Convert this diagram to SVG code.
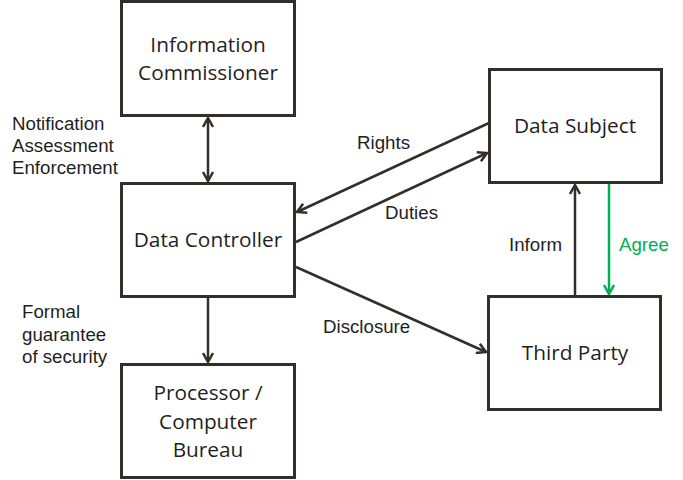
<svg xmlns="http://www.w3.org/2000/svg" width="683" height="480" viewBox="0 0 683 480">
<defs>
<style>
.box{fill:#fff;stroke:#332f28;stroke-width:3}
.nt{font-family:"Open Sans","Noto Sans",sans-serif;font-size:20.8px;fill:#1f1f1f;text-anchor:middle}
.lt{font-family:"Liberation Sans",Arial,sans-serif;font-size:18.7px;fill:#1f1f1f}
.con{stroke:#332f28;stroke-width:2.5;fill:none}
.green{stroke:#00b050}
</style>
<marker id="ah" viewBox="0 0 12 12" refX="10" refY="6" markerWidth="12" markerHeight="12" markerUnits="userSpaceOnUse" orient="auto-start-reverse">
<polyline points="1,1 10,6 1,11" fill="none" stroke="#332f28" stroke-width="2.5"/>
</marker>
<marker id="ahg" viewBox="0 0 12 12" refX="10" refY="6" markerWidth="12" markerHeight="12" markerUnits="userSpaceOnUse" orient="auto">
<polyline points="1,1 10,6 1,11" fill="none" stroke="#00b050" stroke-width="2.5"/>
</marker>
</defs>
<rect width="683" height="480" fill="#fff"/>
<g id="connectors">
<line class="con" x1="208" y1="118" x2="208" y2="181" marker-start="url(#ah)" marker-end="url(#ah)"/>
<line class="con" x1="489" y1="123" x2="297" y2="212" marker-end="url(#ah)"/>
<line class="con" x1="296" y1="242" x2="487" y2="153" marker-end="url(#ah)"/>
<line class="con" x1="296" y1="267" x2="486" y2="352" marker-end="url(#ah)"/>
<line class="con" x1="208" y1="297" x2="208" y2="362" marker-end="url(#ah)"/>
<line class="con" x1="575" y1="296" x2="575" y2="185" marker-end="url(#ah)"/>
<line class="con green" x1="609" y1="183" x2="609" y2="294" marker-end="url(#ahg)"/>
<text class="lt" x="357" y="149">Rights</text>
<text class="lt" x="385" y="219">Duties</text>
<text class="lt" x="323" y="333">Disclosure</text>
<text class="lt" x="509" y="251">Inform</text>
<text class="lt" x="619" y="251" style="fill:#00b050">Agree</text>
<text class="lt" x="12" y="130">Notification</text>
<text class="lt" x="12" y="152">Assessment</text>
<text class="lt" x="12" y="174">Enforcement</text>
<text class="lt" x="22" y="318">Formal</text>
<text class="lt" x="22" y="341">guarantee</text>
<text class="lt" x="22" y="363">of security</text>
</g>
<g id="information-commissioner">
<rect class="box" x="121.5" y="1.5" width="173" height="114"/>
<text class="nt" x="208" y="52">Information</text>
<text class="nt" x="208" y="80">Commissioner</text>
</g>
<g id="data-controller">
<rect class="box" x="121.5" y="183.5" width="173" height="113"/>
<text class="nt" x="208" y="247">Data Controller</text>
</g>
<g id="processor">
<rect class="box" x="121.5" y="364.5" width="173" height="113"/>
<text class="nt" x="208" y="400">Processor /</text>
<text class="nt" x="208" y="429">Computer</text>
<text class="nt" x="208" y="457">Bureau</text>
</g>
<g id="data-subject">
<rect class="box" x="489.5" y="69.5" width="172" height="113"/>
<text class="nt" x="575" y="133">Data Subject</text>
</g>
<g id="third-party">
<rect class="box" x="488.5" y="296.5" width="172" height="113"/>
<text class="nt" x="575" y="360">Third Party</text>
</g>
</svg>
